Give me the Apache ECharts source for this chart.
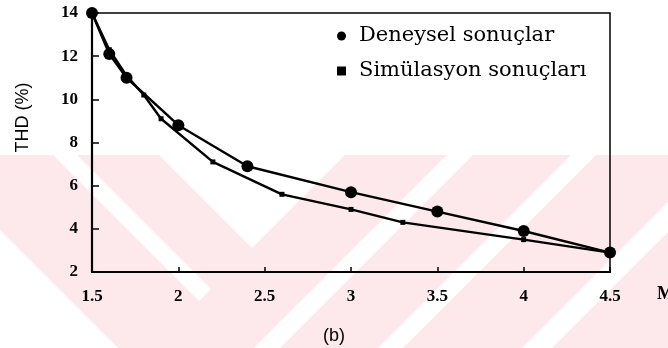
<!DOCTYPE html>
<html>
<head>
<meta charset="utf-8">
<script src="https://cdn.jsdelivr.net/npm/echarts@6/dist/echarts.min.js"></script>
<style>
html,body{margin:0;padding:0;background:#fff;}
#chart{width:668px;height:348px;}
</style>
</head>
<body>
<div id="chart"></div>
<script>
// ---- data ----
const seriesNames = ['Deneysel sonuçlar', 'Simülasyon sonuçları'];
const expX = [1.5, 1.6, 1.7, 2.0, 2.4, 3.0, 3.5, 4.0, 4.5];
const expY = [14.0, 12.1, 11.0, 8.8, 6.9, 5.7, 4.8, 3.9, 2.9];
const simX = [1.5, 1.6, 1.7, 1.8, 1.9, 2.2, 2.6, 3.0, 3.3, 4.0, 4.5];
const simY = [14.0, 12.3, 11.1, 10.2, 9.1, 7.1, 5.6, 4.9, 4.3, 3.5, 2.9];
const xTicks = [1.5, 2, 2.5, 3, 3.5, 4, 4.5];
const yTicks = [2, 4, 6, 8, 10, 12, 14];
const yTitle = 'THD (%)';
const xTitle = 'M';
const caption = '(b)';

// ---- background watermark (decoration) ----
function clip(poly, a, b, c) { // keep a*x+b*y <= c
  const out = [];
  for (let i = 0; i < poly.length; i++) {
    const P = poly[i], Q = poly[(i + 1) % poly.length];
    const fp = a * P[0] + b * P[1] - c, fq = a * Q[0] + b * Q[1] - c;
    if (fp <= 0) out.push(P);
    if (fp * fq < 0) {
      const t = fp / (fp - fq);
      out.push([P[0] + (Q[0] - P[0]) * t, P[1] + (Q[1] - P[1]) * t]);
    }
  }
  return out;
}
const W = 668, H = 348, TOP = 155, SEP = 500;
const base = [[0, TOP], [W, TOP], [W, H], [0, H]];
const wm = [{ type: 'rect', z: -10, silent: true, shape: { x: 0, y: TOP, width: W, height: H - TOP }, style: { fill: '#fde9ec' } }];
function whiteLeft(u1, u2) { // y - x in (u1,u2), x + y <= SEP
  let p = clip(base, 1, -1, -u1);
  p = clip(p, -1, 1, u2);
  p = clip(p, 1, 1, SEP);
  return p;
}
function whiteRight(v1, v2) { // x + y in (v1,v2), x + y >= SEP
  let p = clip(base, -1, -1, -v1);
  p = clip(p, 1, 1, v2);
  p = clip(p, -1, -1, -SEP);
  return p;
}
[whiteLeft(78, 102), whiteLeft(230, 1000), whiteLeft(-1000, -4),
 whiteRight(602, 628), whiteRight(726, 751), whiteRight(870, 900)].forEach(p => {
  if (p.length > 2) wm.push({ type: 'polygon', z: -9, silent: true, shape: { points: p }, style: { fill: '#ffffff' } });
});

const chart = echarts.init(document.getElementById('chart'), null, { renderer: 'canvas' });
const serif = 'Liberation Serif';
chart.setOption({
  backgroundColor: '#ffffff',
  animation: false,
  title: {
    text: caption, left: 318, top: 322,
    textStyle: { fontFamily: 'Liberation Sans', fontSize: 18, fontWeight: 'normal', color: '#000' }
  },
  legend: {
    orient: 'vertical', left: 332, top: 20, itemGap: 13,
    itemWidth: 9, itemHeight: 9,
    data: [{ name: seriesNames[0], icon: 'circle' }, { name: seriesNames[1], icon: 'rect' }],
    textStyle: { fontFamily: 'DejaVu Serif', fontSize: 21, color: '#000', lineHeight: 22, padding: [0, 0, 0, 8] },
    itemStyle: { color: '#000' }
  },
  graphic: wm,
  grid: { left: 92, right: 58, top: 13, bottom: 76, show: true, borderColor: '#000', borderWidth: 1.5, outerBoundsMode: 'none' },
  xAxis: {
    type: 'value', min: xTicks[0], max: xTicks[xTicks.length - 1], interval: 0.5,
    name: xTitle, nameLocation: 'end', nameGap: 47,
    nameTextStyle: { fontFamily: serif, fontSize: 18, fontWeight: 'bold', color: '#000', verticalAlign: 'top', padding: [13, 0, 0, 0] },
    axisLine: { lineStyle: { color: '#000', width: 2.2 } },
    axisTick: { inside: true, length: 5, lineStyle: { color: '#000', width: 1.5 } },
    axisLabel: { fontFamily: serif, fontSize: 17, fontWeight: 'bold', color: '#000', margin: 16 },
    splitLine: { show: false }
  },
  yAxis: {
    type: 'value', min: yTicks[0], max: yTicks[yTicks.length - 1], interval: 2,
    name: yTitle, nameLocation: 'middle', nameGap: 60,
    nameTextStyle: { fontFamily: 'Liberation Sans', fontSize: 18, color: '#000', padding: [0, 0, 0, 50] },
    axisLine: { lineStyle: { color: '#000', width: 2.2 } },
    axisTick: { inside: true, length: 7, lineStyle: { color: '#000', width: 1.5 } },
    axisLabel: { fontFamily: serif, fontSize: 17, fontWeight: 'bold', color: '#000', margin: 14 },
    splitLine: { show: false }
  },
  series: [
    {
      name: seriesNames[0], type: 'line',
      data: expX.map((x, i) => [x, expY[i]]),
      symbol: 'circle', symbolSize: 12,
      lineStyle: { color: '#000', width: 2.4 }, itemStyle: { color: '#000' }, z: 3
    },
    {
      name: seriesNames[1], type: 'line',
      data: simX.map((x, i) => [x, simY[i]]),
      symbol: 'rect', symbolSize: 5,
      lineStyle: { color: '#000', width: 2.4 }, itemStyle: { color: '#000' }, z: 2
    }
  ]
});
</script>
</body>
</html>
